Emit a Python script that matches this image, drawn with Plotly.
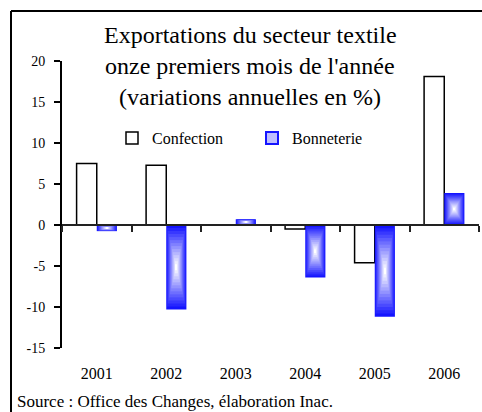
import plotly.graph_objects as go

years = ["2001", "2002", "2003", "2004", "2005", "2006"]
confection = [7.5, 7.3, 0.0, -0.5, -4.6, 18.1]
bonneterie = [-0.75, -10.3, 0.7, -6.4, -11.2, 3.9]
y_ticks = [20, 15, 10, 5, 0, -5, -10, -15]

FONT = "Liberation Serif"
W = 0.29  # bar width in category units
N = 14    # gradient layers

fig = go.Figure()
fig.add_trace(go.Bar(
    x=years, y=confection, name="Confection", width=W, offset=-W,
    marker=dict(color="white", line=dict(color="black", width=1.5)),
    legend="legend",
))

blue = (20, 20, 255)
for k in range(N):
    f = 1 - k / N
    t = k / (N - 1)
    col = tuple(int(round(b + (255 - b) * t)) for b in blue)
    fig.add_trace(go.Bar(
        x=years,
        y=[v * f for v in bonneterie],
        base=[v * (1 - f) / 2 for v in bonneterie],
        width=W * f, offset=W * (1 - f) / 2,
        marker=dict(color="rgb(%d,%d,%d)" % col, line=dict(width=0)),
        name="Bonneterie", showlegend=False, hoverinfo="skip",
    ))
# legend entry for Bonneterie
fig.add_trace(go.Bar(x=[years[0]], y=[None], name="Bonneterie", legend="legend2",
                     marker=dict(color="rgb(190,190,255)", line=dict(color="rgb(20,20,255)", width=2))))

ymin, ymax = -15, 20
PL, PB, PW, PH = 62, 348, 417, 287
def px(x):
    return (x - PL) / PW
def py(y):
    return (PB - y) / PH

leg_common = dict(orientation="h", xanchor="left", yanchor="middle",
                  font=dict(size=16, family=FONT), bgcolor="rgba(0,0,0,0)",
                  itemwidth=30)
fig.update_layout(
    width=482, height=412,
    margin=dict(l=62, r=3, t=61, b=64),
    paper_bgcolor="white", plot_bgcolor="white",
    barmode="overlay",
    font=dict(family=FONT, color="black"),
    showlegend=True,
    legend=dict(x=px(112), y=py(138), **leg_common),
    legend2=dict(x=px(252), y=py(138), **leg_common),
    xaxis=dict(type="category", range=[-0.5, 5.5], showline=False, showgrid=False,
               zeroline=False, ticks="outside", ticklen=11, tickcolor="rgba(0,0,0,0)",
               tickfont=dict(size=16, family=FONT)),
    xaxis2=dict(type="category", range=[-0.5, 5.5], overlaying="x", anchor="free",
                position=(0 - ymin) / (ymax - ymin), showline=True, linecolor="#222",
                linewidth=2, ticks="outside", tickson="boundaries", ticklen=6,
                tickwidth=2, tickcolor="#222", showticklabels=False, showgrid=False,
                categoryarray=years, categoryorder="array"),
    yaxis=dict(range=[ymin, ymax], tickvals=y_ticks, ticktext=[str(v) for v in y_ticks],
               showline=True, linecolor="black",
               linewidth=2, ticks="outside", ticklen=6, tickwidth=2, tickcolor="black",
               ticklabelstandoff=6,
               showgrid=False, zeroline=False, tickfont=dict(size=14, family=FONT)),
)
# invisible trace to activate xaxis2
fig.add_trace(go.Scatter(x=years, y=[None] * len(years), xaxis="x2", showlegend=False,
                         hoverinfo="skip"))

titles = ["Exportations du secteur textile", "onze premiers mois de l'année",
          "(variations annuelles en %)"]
for i, t in enumerate(titles):
    fig.add_annotation(text=t, xref="paper", yref="paper",
                       x=px(250), y=py(35 + 31 * i),
                       showarrow=False, xanchor="center", yanchor="middle",
                       font=dict(size=24, family=FONT))
fig.add_annotation(text="Source : Office des Changes, élaboration Inac.",
                   xref="paper", yref="paper", x=px(15), y=py(401),
                   showarrow=False, xanchor="left", yanchor="middle",
                   font=dict(size=17, family=FONT))
# frame (left and top edges)
fig.add_shape(type="line", xref="paper", yref="paper", x0=px(11), x1=px(11),
              y0=py(420), y1=py(11), line=dict(color="black", width=2))
fig.add_shape(type="line", xref="paper", yref="paper", x0=px(11), x1=px(490),
              y0=py(11), y1=py(11), line=dict(color="black", width=2))

fig.write_html("out.html", post_script="document.body.style.margin='0';",
               config={"displayModeBar": False})
